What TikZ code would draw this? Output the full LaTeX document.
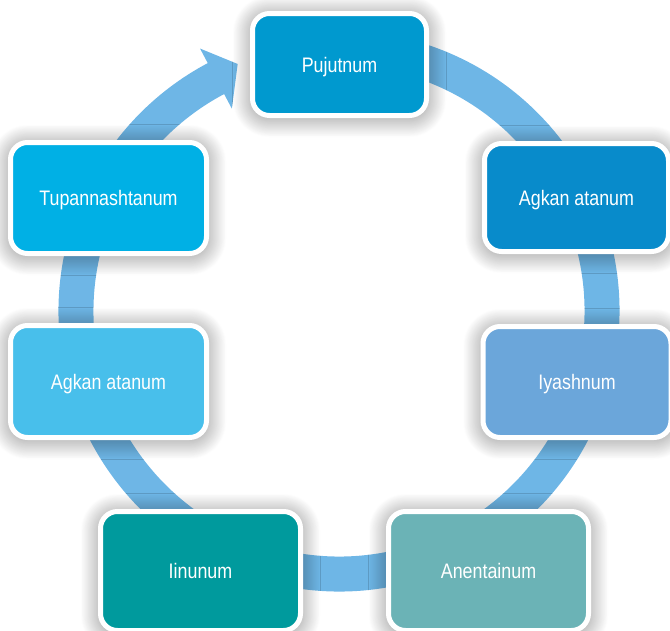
\documentclass[tikz,border=0pt]{standalone}
\usepackage{fontspec}
\newfontfamily\lab{Liberation Sans}[FakeStretch=0.85]
\usetikzlibrary{shadows.blur}
\definecolor{ringblue}{RGB}{110,182,230}
\definecolor{cA}{RGB}{0,153,207}
\definecolor{cB}{RGB}{8,139,203}
\definecolor{cC}{RGB}{107,166,218}
\definecolor{cD}{RGB}{107,179,182}
\definecolor{cE}{RGB}{0,154,157}
\definecolor{cF}{RGB}{72,191,235}
\definecolor{cG}{RGB}{0,176,229}
\tikzset{
  stagebox/.style={draw=white, line width=5pt, rounded corners=17pt, inner sep=0pt,
    text=white, font=\lab\fontsize{21}{25}\selectfont, text height=15pt, text depth=0pt,
    blur shadow={shadow xshift=0pt, shadow yshift=-2pt, shadow blur radius=20pt, shadow blur steps=24, shadow opacity=50}},
  ringline/.style={draw=ringblue, line width=35pt}
}
\begin{document}
\begin{tikzpicture}[x=1pt,y=-1pt]
\useasboundingbox (0,0) rectangle (670,630);
% ring with arrow
\coordinate (ctr) at (339,311);
\draw[ringline] (ctr) ++(-80:263) arc[start angle=-80, end angle=242.4, radius=263];
\fill[ringblue, shift={(339,311)}] (242.1:297) -- (247.7:267) -- (242.1:229) -- cycle;
% boxes
\node[stagebox, fill=cA, minimum width=174pt, minimum height=102pt] (pujutnum) at (339.5,64.5) {Pujutnum};
\node[stagebox, fill=cB, minimum width=184pt, minimum height=108pt] (agkanr) at (576.5,197.5) {Agkan atanum};
\node[stagebox, fill=cC, minimum width=188pt, minimum height=111pt] (iyashnum) at (577,382) {Iyashnum};
\node[stagebox, fill=cD, minimum width=200pt, minimum height=119pt] (anentainum) at (488.5,571) {Anentainum};
\node[stagebox, fill=cE, minimum width=200pt, minimum height=119pt] (iinunum) at (200.5,571) {Iinunum};
\node[stagebox, fill=cF, minimum width=196pt, minimum height=112pt] (agkanl) at (108.5,381.5) {Agkan atanum};
\node[stagebox, fill=cG, minimum width=196pt, minimum height=111pt] (tupann) at (108.5,198) {Tupannashtanum};
\end{tikzpicture}
\end{document}
